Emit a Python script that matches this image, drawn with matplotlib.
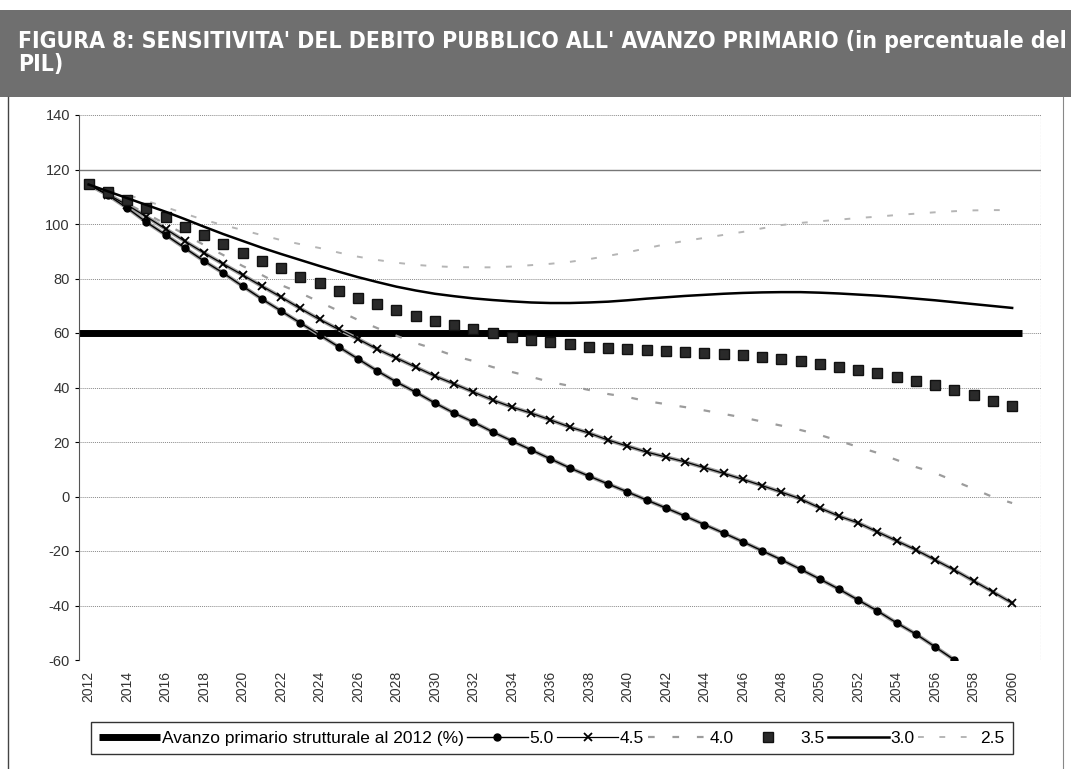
import numpy as np
import matplotlib
matplotlib.use("Agg")
import matplotlib.pyplot as plt
from matplotlib.patches import Rectangle
from matplotlib.lines import Line2D

plt.rcParams['font.family'] = ['Liberation Sans', 'DejaVu Sans']
plt.rcParams['axes.unicode_minus'] = False

years = list(range(2012, 2061))

s50 = [114.5, 110.6, 105.9, 100.7, 96.0, 91.2, 86.4, 82.0, 77.2, 72.5,
       68.1, 63.7, 59.3, 54.9, 50.5, 46.1, 42.0, 38.3, 34.3, 30.6,
       27.3, 23.7, 20.4, 17.1, 13.8, 10.5, 7.5, 4.6, 1.7, -1.3,
       -4.2, -7.2, -10.3, -13.4, -16.6, -19.9, -23.2, -26.7, -30.3, -34.0,
       -38.0, -42.0, -46.4, -50.5, -55.2, -60.0]
s45 = [114.5, 110.8, 107.0, 102.7, 98.2, 93.7, 89.4, 85.3, 81.3, 77.2,
       73.2, 69.0, 65.0, 61.3, 57.8, 54.1, 50.8, 47.5, 44.2, 41.3,
       38.3, 35.4, 32.8, 30.6, 28.1, 25.5, 23.3, 20.7, 18.5, 16.3,
       14.5, 12.7, 10.6, 8.5, 6.3, 4.0, 1.6, -0.9, -4.2, -7.2,
       -9.7, -13.0, -16.3, -19.6, -23.3, -27.0, -31.0, -35.0, -39.1]
s40 = [114.5, 111.0, 107.5, 103.8, 100.0, 96.2, 92.3, 88.6, 84.6, 81.3,
       77.6, 74.7, 71.4, 68.1, 64.8, 61.8, 59.0, 56.3, 54.1, 51.6,
       49.7, 47.5, 45.7, 43.9, 42.0, 40.6, 39.1, 37.6, 36.5, 35.0,
       33.9, 32.8, 31.6, 30.3, 29.0, 27.5, 26.0, 24.4, 22.6, 20.4,
       18.2, 16.0, 13.4, 10.8, 8.6, 5.7, 2.8, -0.2, -2.4]
s35 = [114.5, 111.7, 108.8, 105.9, 102.6, 98.9, 96.0, 92.7, 89.4, 86.4,
       83.9, 80.6, 78.3, 75.4, 72.8, 70.6, 68.4, 66.2, 64.4, 62.9,
       61.5, 60.0, 58.5, 57.6, 56.7, 56.0, 54.9, 54.5, 54.1, 53.8,
       53.4, 53.0, 52.7, 52.3, 51.8, 51.2, 50.5, 49.6, 48.6, 47.6,
       46.5, 45.2, 43.8, 42.4, 40.8, 39.1, 37.2, 35.2, 33.2]
s30 = [114.5, 112.0, 109.5, 107.0, 104.5, 101.8, 99.0, 96.3, 93.8, 91.3,
       89.0, 86.8, 84.6, 82.5, 80.5, 78.7, 77.0, 75.6, 74.4, 73.5,
       72.7, 72.1, 71.6, 71.2, 71.0, 71.0, 71.2, 71.5, 72.0, 72.6,
       73.1, 73.6, 74.0, 74.4, 74.7, 74.9, 75.0, 75.0, 74.8, 74.5,
       74.1, 73.7, 73.2, 72.6, 72.0, 71.3, 70.6, 69.9, 69.2]
s25 = [114.5, 112.5, 110.8, 108.5, 106.2, 103.8, 101.5, 99.6, 97.8, 95.9,
       94.1, 92.6, 91.2, 89.5, 88.0, 86.8, 85.8, 85.0, 84.5, 84.2,
       84.1, 84.1, 84.4, 84.9, 85.4, 86.1, 87.1, 88.3, 89.6, 91.1,
       92.6, 93.8, 94.9, 96.0, 97.1, 98.4, 99.6, 100.4, 101.0, 101.6,
       102.2, 102.7, 103.3, 103.8, 104.3, 104.7, 105.0, 105.1, 105.1]
soglia = 60

title = ("FIGURA 8: SENSITIVITA' DEL DEBITO PUBBLICO ALL' AVANZO PRIMARIO (in percentuale del\nPIL)")

fig = plt.figure(figsize=(10.71, 7.69), dpi=100)

# banner
fig.add_artist(Rectangle((0, 1 - 97 / 769), 1, 87 / 769, transform=fig.transFigure,
                         facecolor='#6f6f6f', edgecolor='none'))
fig.text(0.017, 1 - 53 / 769, title, color='white', fontsize=16.5, fontweight='heavy',
         family='DejaVu Sans', fontstretch='condensed', va='center', ha='left',
         linespacing=1.05)
# outer frame lines
fig.add_artist(Line2D([8 / 1071, 8 / 1071], [0, 1 - 97 / 769], transform=fig.transFigure,
                      color='#444444', lw=1))
fig.add_artist(Line2D([1063 / 1071, 1063 / 1071], [0, 1 - 97 / 769], transform=fig.transFigure,
                      color='#888888', lw=0.8))

ax = fig.add_axes([79 / 1071, 1 - 660 / 769, (1041 - 79) / 1071, (660 - 115) / 769])

grid_kw = dict(color='#8a8a8a', lw=0.7, ls=(0, (1, 1)))
for v in range(-60, 141, 20):
    if v == 120:
        ax.axhline(v, color='#777777', lw=1.0, zorder=0)
    else:
        ax.axhline(v, zorder=0, **grid_kw)

ax.hlines(soglia, 2011.5, 2060.5, color='black', lw=5, zorder=2,
          label='Avanzo primario strutturale al 2012 (%)')

ax.plot(years[:len(s50)], s50, color='#a0a0a0', lw=2.8, zorder=2)
ax.plot(years[:len(s50)], s50, color='black', lw=1.0, marker='o', ms=5,
        mfc='black', mec='black', zorder=3, label='5.0')
ax.plot(years, s45, color='#a0a0a0', lw=2.8, zorder=2)
ax.plot(years, s45, color='black', lw=0.9, marker='x', ms=6, mew=1.3,
        zorder=3, label='4.5')
ax.plot(years, s40, color='#9c9c9c', lw=1.6, ls=(0, (3, 8)), zorder=2, label='4.0')
ax.plot(years, s35, color='#111111', lw=0, marker='s', ms=6.5, mec='#111111',
        mfc='#2a2a2a', zorder=3, label='3.5')
ax.plot(years, s30, color='black', lw=1.8, zorder=3, label='3.0')
ax.plot(years, s25, color='#b5b5b5', lw=1.4, ls=(0, (3, 8)), zorder=2, label='2.5')

ax.set_xlim(2011.5, 2061.5)
ax.set_ylim(-60, 140)
ax.set_yticks(range(-60, 141, 20))
ax.set_xticks(years[::2])
ax.set_xticklabels([str(y) for y in years[::2]], rotation=90, fontsize=10, color='#333333')
ax.tick_params(axis='y', labelsize=10.5, labelcolor='#333333', length=3)
ax.tick_params(axis='x', length=0, pad=8)
for side in ['top', 'right', 'bottom']:
    ax.spines[side].set_visible(False)
ax.spines['left'].set_color('#555555')
ax.spines['left'].set_linestyle((0, (2, 1)))
ax.axvline(2061.5, color='#999999', lw=0.8, ls=(0, (2, 1)))

handles, labels = ax.get_legend_handles_labels()
leg = fig.legend(handles, labels, loc='center', bbox_to_anchor=(552 / 1071, 1 - 738 / 769),
                 ncol=7, frameon=True, fancybox=False, edgecolor='black', fontsize=12.5,
                 handlelength=3.5, handletextpad=0.1, columnspacing=0.2,
                 borderpad=0.5)
leg.get_frame().set_linewidth(1.0)

fig.savefig('out.png', dpi=100, facecolor='white')
